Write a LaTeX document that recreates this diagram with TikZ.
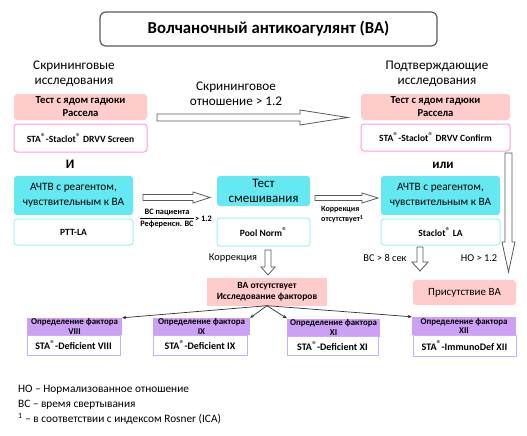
\documentclass[tikz,border=0pt]{standalone}
\usepackage{fontspec}
\usepackage{amsmath}
\setmainfont{Carlito}
\usetikzlibrary{calc,arrows.meta}
\definecolor{pinkf}{RGB}{255,204,204}
\definecolor{pinkb}{RGB}{250,160,220}
\definecolor{cyanf}{RGB}{100,232,242}
\definecolor{cyanb}{RGB}{160,240,250}
\definecolor{purf}{RGB}{204,160,245}
\definecolor{purb}{RGB}{205,175,245}
\definecolor{grayb}{RGB}{90,90,90}
\newcommand\hollowarr[6]{%
  \coordinate (#6h) at ($(#2)!#5!(#1)$);
  \draw[hollowarrow] ($(#1)!#3!90:(#2)$) -- ($(#6h)!#3!90:(#2)$) -- ($(#6h)!#4!90:(#2)$) -- (#2)
    -- ($(#6h)!#4!-90:(#2)$) -- ($(#6h)!#3!-90:(#2)$) -- ($(#1)!#3!-90:(#2)$) -- cycle;
}
\newcommand\reg{\raisebox{0.45ex}{\fontsize{10}{10}\selectfont\mdseries\textregistered}}
\begin{document}
\begin{tikzpicture}[x=1pt,y=-1pt,
  box/.style={inner sep=0pt,align=center,rounded corners=3pt},
  pinkbox/.style={box,fill=pinkf},
  pinkwhite/.style={box,draw=pinkb,line width=1pt,fill=white},
  cyanbox/.style={box,fill=cyanf},
  cyanwhite/.style={box,draw=cyanb,line width=1pt,fill=white},
  purhead/.style={inner sep=0pt,align=center,fill=purf},
  purwhite/.style={inner sep=0pt,align=center,draw=purb,line width=1pt,fill=white},
  plain/.style={inner sep=0pt,align=center},
  hollowarrow/.style={draw=grayb,fill=white,line width=0.8pt,line join=miter},
  thinarrow/.style={draw=black!80,line width=0.7pt,-{Stealth[length=4pt,width=3.5pt]}},
  titlef/.style={font=\fontsize{16.7}{20}\selectfont\bfseries},
  headf/.style={font=\fontsize{13.2}{15}\selectfont},
  rvf/.style={font=\fontsize{10.7}{13}\selectfont\bfseries},
  staf/.style={font=\fontsize{9.5}{11}\selectfont\bfseries},
  midf/.style={font=\fontsize{10.4}{13.5}\selectfont},
  apf/.style={font=\fontsize{11.3}{14.5}\selectfont},
  smallb/.style={font=\fontsize{8}{10}\selectfont\bfseries},
  facf/.style={font=\fontsize{8.9}{9.5}\selectfont\bfseries},
  legf/.style={font=\fontsize{11.3}{13}\selectfont}]
\useasboundingbox (0,0) rectangle (527,436);
\fill[white] (0,0) rectangle (527,436);

% title
\node[box,titlef,draw=grayb,line width=1.2pt,rounded corners=6pt,minimum width=337pt,minimum height=34pt] (title) at (268.5,29) {Волчаночный антикоагулянт (ВА)};

% screening column
\node[plain,headf] (hs1) at (74,74) {Скрининговые\\исследования};
\node[pinkbox,rvf,minimum width=133pt,minimum height=26pt] (rv1) at (80.5,107) {Тест с ядом гадюки\\Рассела};
\node[pinkwhite,staf,minimum width=133pt,minimum height=28pt] (sc1) at (80.5,138) {STA\reg-Staclot\reg\ DRVV Screen};

% ratio label
\node[plain,headf] (ratio) at (236,94) {Скрининговое\\отношение > 1.2};

% confirm column
\node[plain,headf] (hs2) at (437,74) {Подтверждающие\\исследования};
\node[pinkbox,rvf,minimum width=149pt,minimum height=26pt] (rv2) at (435.5,107) {Тест с ядом гадюки\\Рассела};
\node[pinkwhite,staf,minimum width=149pt,minimum height=27pt] (cf2) at (435.5,137.5) {STA\reg-Staclot\reg\ DRVV Confirm};

% second row
\node[plain,font=\fontsize{13}{15}\selectfont\bfseries] (and) at (70,164) {И};
\node[plain,font=\fontsize{13}{15}\selectfont\bfseries] (or) at (443,165) {или};
\node[cyanbox,apf,minimum width=119pt,minimum height=39pt] (ap1) at (73.5,195.5) {АЧТВ с реагентом,\\чувствительным к ВА};
\node[cyanwhite,staf,minimum width=119pt,minimum height=26pt] (pl) at (73.5,232) {PTT-LA};
\node[cyanbox,font=\fontsize{13}{15}\selectfont,minimum width=93pt,minimum height=30pt] (mix) at (263.5,191) {Тест\\смешивания};
\node[cyanwhite,staf,minimum width=93pt,minimum height=28pt] (pool) at (263.5,232) {Pool Norm\reg};
\node[cyanbox,apf,minimum width=119pt,minimum height=39pt] (ap2) at (440.5,195.5) {АЧТВ с реагентом,\\чувствительным к ВА};
\node[cyanwhite,staf,minimum width=119pt,minimum height=26pt] (scl) at (440.5,232) {Staclot\reg\ LA};

\node[plain,font=\fontsize{8.3}{10}\selectfont\bfseries] (frac) at (167,218.5) {$\dfrac{\text{ВС пациента}}{\text{Референсн. ВС}}$};
\node[plain,font=\fontsize{8.3}{10}\selectfont\bfseries,anchor=west] (gt) at (frac.east) {> 1.2};
\node[plain,smallb,align=left,anchor=west] (corr) at (321,215) {Коррекция\\отсутствует\textsuperscript{1}};

\node[plain,midf] (corr2) at (233,258) {Коррекция};
\node[plain,midf] (bc8) at (385,258) {ВС > 8 сек};
\node[plain,midf] (no12) at (479,258) {НО > 1.2};

\node[pinkbox,rounded corners=0pt,font=\fontsize{9.5}{11.5}\selectfont\bfseries,minimum width=120pt,minimum height=28pt] (vaabs) at (267,291.5) {ВА отсутствует\\Исследование факторов};
\node[pinkbox,font=\fontsize{11}{13}\selectfont,minimum width=103pt,minimum height=25pt] (pres) at (464.5,292.5) {Присутствие ВА};

% factor boxes
\node[purhead,facf,minimum width=95pt,minimum height=17pt] (f8h) at (74.5,326.5) {Определение фактора\\VIII};
\node[purwhite,font=\fontsize{10}{12}\selectfont\bfseries,minimum width=93pt,minimum height=20pt] (f8) at (73.5,345) {STA\reg-Deficient VIII};
\node[purhead,facf,minimum width=97pt,minimum height=17pt] (f9h) at (201.5,326.5) {Определение фактора\\IX};
\node[purwhite,font=\fontsize{10}{12}\selectfont\bfseries,minimum width=94pt,minimum height=20pt] (f9) at (200,345) {STA\reg-Deficient IX};
\node[purhead,facf,minimum width=93pt,minimum height=18pt] (f11h) at (333.5,327.5) {Определение фактора\\XI};
\node[purwhite,font=\fontsize{10}{12}\selectfont\bfseries,minimum width=91pt,minimum height=19pt] (f11) at (332.5,346) {STA\reg-Deficient XI};
\node[purhead,facf,minimum width=104pt,minimum height=18pt] (f12h) at (464,326) {Определение фактора\\XII};
\node[purwhite,font=\fontsize{10}{12}\selectfont\bfseries,minimum width=103pt,minimum height=21pt] (f12) at (464.5,345.5) {STA\reg-ImmunoDef XII};

\draw[thinarrow] (vaabs.south) -- (f8h.north east);
\draw[thinarrow] (vaabs.south) -- (f9h.north east);
\draw[thinarrow] (vaabs.south) -- (f11h.north west);
\draw[thinarrow] (vaabs.south) -- (f12h.north west);

% hollow arrows
\coordinate (a1s) at (157,117.5); \coordinate (a1e) at (348,117.5);
\hollowarr{a1s}{a1e}{3.5pt}{7.5pt}{48pt}{a1}
\coordinate (a2s) at (143,197.5); \coordinate (a2e) at (210,197.5);
\hollowarr{a2s}{a2e}{3pt}{5.5pt}{17pt}{a2}
\coordinate (a3s) at (315,198); \coordinate (a3e) at (378,198);
\hollowarr{a3s}{a3e}{2.5pt}{5pt}{16pt}{a3}
\coordinate (a4s) at (508.5,153); \coordinate (a4e) at (508.5,272);
\hollowarr{a4s}{a4e}{3.5pt}{6.5pt}{30pt}{a4}
\coordinate (a5s) at (420,247); \coordinate (a5e) at (420,271);
\hollowarr{a5s}{a5e}{3pt}{8pt}{9pt}{a5}
\coordinate (a6s) at (268,250); \coordinate (a6e) at (268,275);
\hollowarr{a6s}{a6e}{3pt}{7pt}{8pt}{a6}

% legend
\node[plain,legf,anchor=west] (l1) at (18,390) {НО – Нормализованное отношение};
\node[plain,legf,anchor=west] (l2) at (18,405) {ВС – время свертывания};
\node[plain,legf,anchor=west] (l3) at (18,419) {\textsuperscript{1} – в соответствии с индексом Rosner (ICA)};
\end{tikzpicture}
\end{document}
